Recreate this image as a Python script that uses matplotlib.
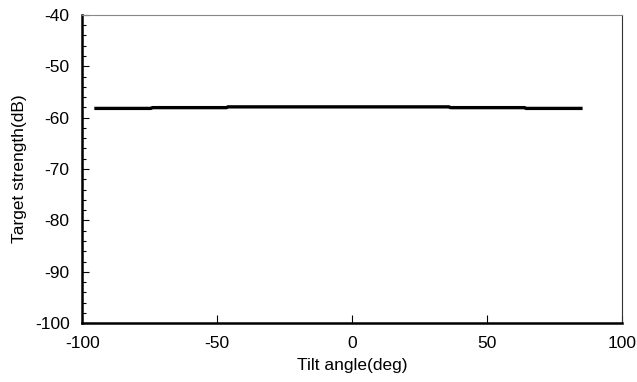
import numpy as np
import matplotlib.pyplot as plt
from matplotlib.ticker import MultipleLocator

plt.rcParams['font.family'] = ['Liberation Sans', 'DejaVu Sans']
plt.rcParams['axes.unicode_minus'] = False

# tilt angle (deg) and target strength (dB)
tilt = [-95.5, -74.5, -74.0, -46.5, -46.0, 36.0, 36.5, 64.0, 64.5, 85.5]
ts = [-58.2, -58.2, -58.05, -58.05, -57.9, -57.9, -58.05, -58.05, -58.2, -58.2]

fig = plt.figure(figsize=(6.37, 3.82), dpi=100)
ax = fig.add_axes([0.129, 0.154, 0.847, 0.807])

ax.plot(tilt, ts, color='black', lw=2.4, solid_capstyle='butt')

ax.set_xlim(-100, 100)
ax.set_ylim(-100, -40)
ax.xaxis.set_major_locator(MultipleLocator(50))
ax.yaxis.set_major_locator(MultipleLocator(10))
ax.yaxis.set_minor_locator(MultipleLocator(2))

ax.tick_params(axis='x', which='major', direction='in', length=6, width=0.8,
               labelsize=12.5, pad=9, top=False)
ax.tick_params(axis='y', which='major', direction='in', length=5, width=0.8,
               labelsize=12.5, pad=9, right=False)
ax.tick_params(axis='y', which='minor', direction='in', length=3, width=0.8,
               right=False)

ax.spines['left'].set_linewidth(1.8)
ax.spines['bottom'].set_linewidth(1.8)
ax.spines['top'].set_linewidth(0.8)
ax.spines['top'].set_color('#888888')
ax.spines['right'].set_linewidth(0.8)
ax.spines['right'].set_color('#333333')

ax.set_xlabel('Tilt angle(deg)', fontsize=12.5, labelpad=5)
ax.set_ylabel('Target strength(dB)', fontsize=12.5, labelpad=6)

fig.savefig('out.png', dpi=100)
